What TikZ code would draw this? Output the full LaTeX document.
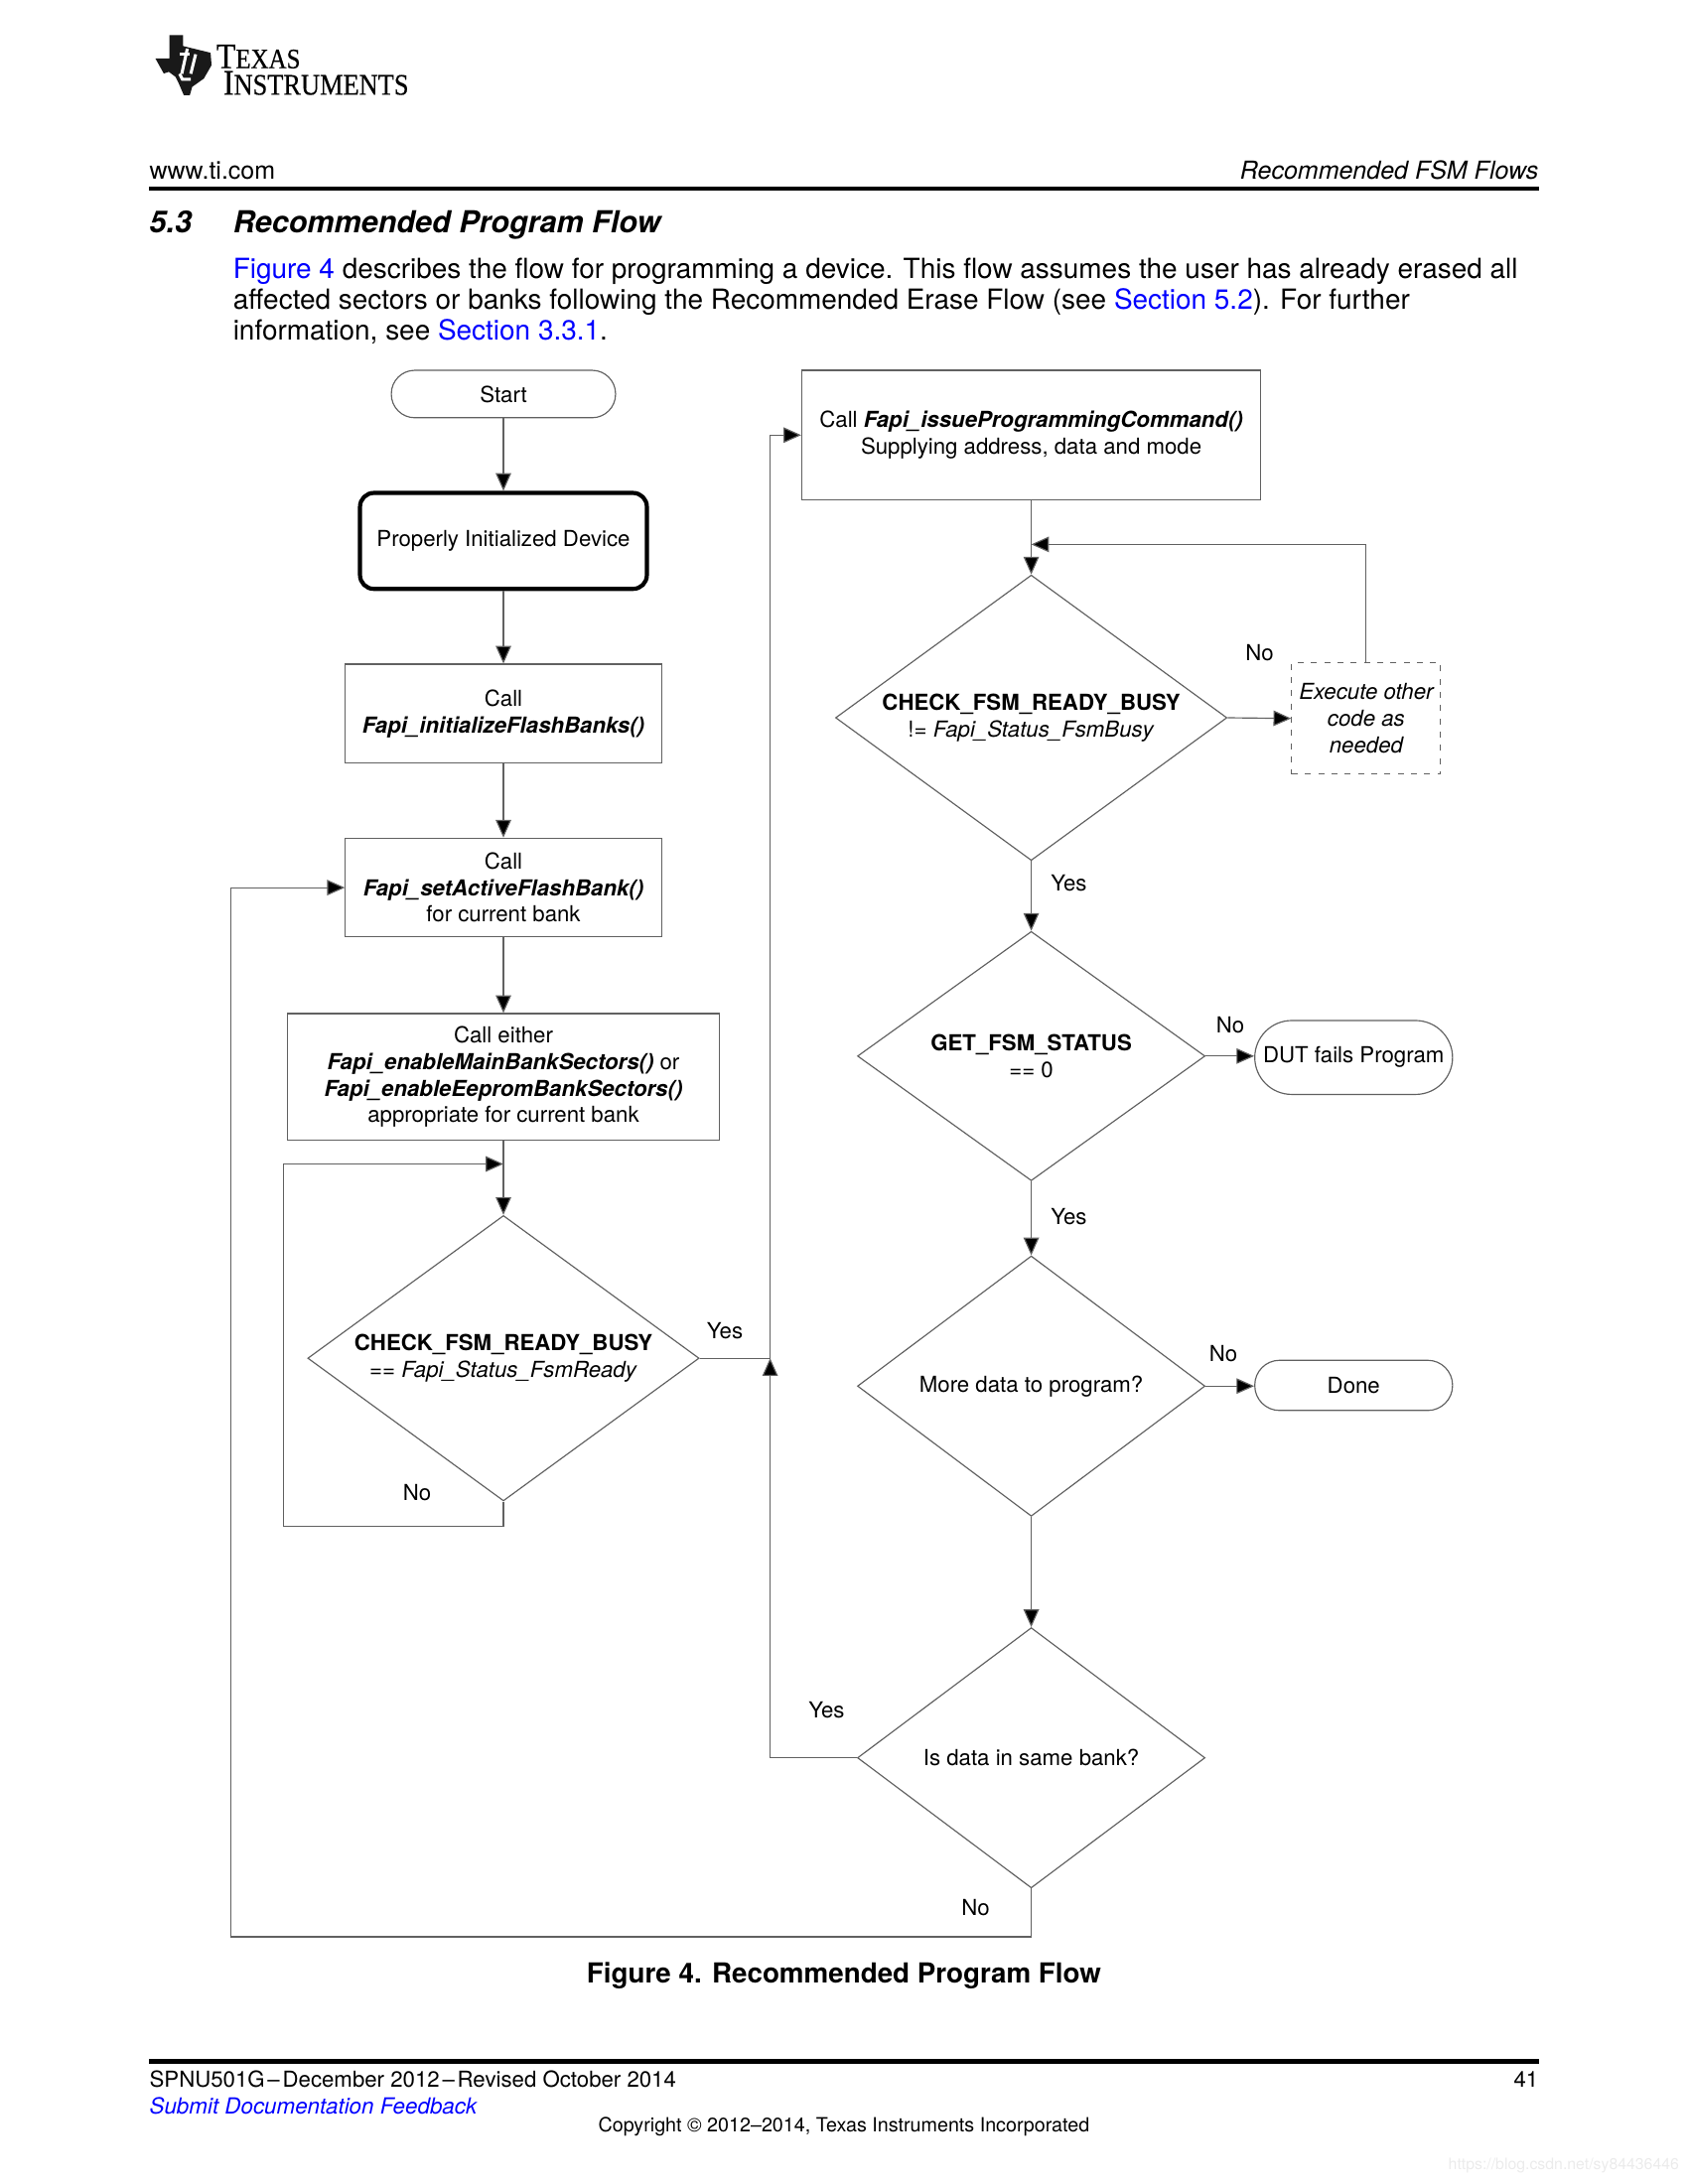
\documentclass[tikz,border=0pt]{standalone}
\usepackage{fontspec}
\setmainfont{TeX Gyre Heros}
\newfontfamily\logofont[FakeStretch=0.88,FakeBold=0.4]{Liberation Serif}
\usetikzlibrary{arrows.meta,shapes.geometric}
\definecolor{linkblue}{rgb}{0,0,1}
\newcommand{\fapi}[1]{\textbf{\textit{#1}}}
\newcommand{\lnk}[1]{\textcolor{linkblue}{#1}}
\tikzset{
	flowbox/.style={draw=black!62, line width=0.42pt, inner sep=0pt, align=center, font=\fontsize{8}{9.6}\selectfont},
	flowdec/.style={flowbox, diamond, aspect=1.37},
	flowterm/.style={flowbox, rounded corners=8.5pt},
	flowlabel/.style={inner sep=0pt, font=\fontsize{8}{9.6}\selectfont},
	flowline/.style={draw=black!62, line width=0.42pt},
	flowarrow/.style={flowline, -{Triangle[length=6.4pt,width=5.6pt,fill=black]}},
	pagetext/.style={inner sep=0pt, anchor=base west, font=\fontsize{10.06}{11}\selectfont},
}

\begin{document}
\begin{tikzpicture}[x=0.5049pt, y=-0.5049pt]
	%%%%% START %%%%%
	\useasboundingbox (0, 0) rectangle (1212.1, 1568.6);

	% logo
	\fill[black!90] (121.7, 25.2) -- (131.5, 25.2) -- (131.5, 33.1) -- (151.2, 37.9) -- (151.9, 46.8) -- (146.4, 56.4) -- (138, 62.4) -- (136.3, 68.4) -- (132, 68.4) -- (128.4, 60) -- (126, 55.2) -- (121.2, 51.6) -- (117.6, 52.8) -- (111.6, 42) -- (121.7, 42) -- cycle;
	\draw[white, line width=1.1pt] (134.5, 35) -- (130.5, 53);
	\draw[white, line width=1.1pt] (140.5, 39) -- (137, 53);
	\draw[white, line width=1pt] (129, 39) -- (136, 39);
	\draw[white, line width=1.1pt] (129, 53) -- (131, 57) -- (137, 57);
	\node[inner sep=0pt, anchor=base west, font=\logofont\fontsize{13}{13}\selectfont] (logotexas) at (155, 49) {T\fontsize{10.2}{10.2}\selectfont EXAS};
	\node[inner sep=0pt, anchor=base west, font=\logofont\fontsize{13}{13}\selectfont] (logoinst) at (160, 68) {I\fontsize{10.8}{10.8}\selectfont NSTRUMENTS};

	% header
	\node[pagetext, font=\fontsize{9}{11}\selectfont] (headleft) at (107, 129) {www.ti.com};
	\node[pagetext, anchor=base east, font=\fontsize{9}{11}\selectfont\itshape] (headright) at (1105, 129) {Recommended FSM Flows};
	\fill[black] (107, 134) rectangle (1105, 137);
	\node[pagetext, font=\fontsize{11}{13}\selectfont\bfseries\itshape] (secnum) at (107, 167) {5.3};
	\node[pagetext, font=\fontsize{11}{13}\selectfont\bfseries\itshape] (sectitle) at (167, 167) {Recommended Program Flow};
	\node[pagetext] (paraone) at (167, 200) {\lnk{Figure 4} describes the flow for programming a device. This flow assumes the user has already erased all};
	\node[pagetext] (paratwo) at (167, 222) {affected sectors or banks following the Recommended Erase Flow (see \lnk{Section 5.2}). For further};
	\node[pagetext] (parathree) at (167, 244) {information, see \lnk{Section 3.3.1}.};

	% left column
	\node[flowterm, minimum width=81.3pt, minimum height=17.2pt] (start) at (361.5, 283) {Start};
	\node[flowbox, draw=black, line width=1.5pt, rounded corners=5pt, minimum width=104pt, minimum height=34.8pt] (device) at (361.5, 388.5) {Properly Initialized Device};
	\node[flowbox, minimum width=114.6pt, minimum height=35.85pt] (initbanks) at (361.5, 512.5) {Call\\ \fapi{Fapi\_initializeFlashBanks()}};
	\node[flowbox, minimum width=114.6pt, minimum height=35.85pt] (setactive) at (361.5, 637.5) {Call\\ \fapi{Fapi\_setActiveFlashBank()}\\ for current bank};
	\node[flowbox, minimum width=156.5pt, minimum height=46pt] (enable) at (361.5, 773.5) {Call either\\ \fapi{Fapi\_enableMainBankSectors()} or\\ \fapi{Fapi\_enableEepromBankSectors()}\\ appropriate for current bank};
	\node[flowdec, minimum width=141.9pt, minimum height=103.5pt] (readyone) at (361.5, 975.5) {\textbf{CHECK\_FSM\_READY\_BUSY}\\ == \textit{Fapi\_Status\_FsmReady}};

	% right column
	\node[flowbox, minimum width=166.4pt, minimum height=47pt] (issue) at (740.5, 312.5) {Call \fapi{Fapi\_issueProgrammingCommand()}\\ Supplying address, data and mode};
	\node[flowdec, minimum width=141.9pt, minimum height=103.5pt] (readytwo) at (740.5, 515.5) {\textbf{CHECK\_FSM\_READY\_BUSY}\\ != \textit{Fapi\_Status\_FsmBusy}};
	\node[flowbox, dashed, dash pattern=on 2.2pt off 2.6pt, minimum width=54pt, minimum height=40.4pt, font=\fontsize{8}{9.6}\selectfont\itshape] (other) at (981, 516) {Execute other\\ code as\\ needed};
	\node[flowdec, aspect=1.39, minimum width=126pt, minimum height=90.4pt] (status) at (740.5, 758.5) {\textbf{GET\_FSM\_STATUS}\\ == 0};
	\node[flowterm, rounded corners=13.4pt, minimum width=71.7pt, minimum height=26.8pt] (fails) at (972, 759.5) {DUT fails Program};
	\node[flowdec, aspect=1.33, minimum width=126pt, minimum height=94.4pt] (more) at (740.5, 995.5) {More data to program?};
	\node[flowterm, rounded corners=9pt, minimum width=71.7pt, minimum height=18.2pt] (done) at (972, 995) {Done};
	\node[flowdec, aspect=1.33, minimum width=126pt, minimum height=94.4pt] (same) at (740.5, 1262.5) {Is data in same bank?};

	% free ends of the connectors
	\coordinate (joinone) at (361.5, 836);
	\coordinate (loopone) at (203.5, 1096);
	\coordinate (jointwo) at (740.5, 391);
	\coordinate (upjoin) at (553, 975.5);
	\coordinate (upturn) at (553, 1262.5);
	\coordinate (backcorner) at (165.5, 1391);

	\draw[flowarrow] (start) -- (device);
	\draw[flowarrow] (device) -- (initbanks);
	\draw[flowarrow] (initbanks) -- (setactive);
	\draw[flowarrow] (setactive) -- (enable);
	\draw[flowarrow] (enable) -- (readyone);
	\draw[flowarrow] (readyone.south) |- (loopone) |- (joinone);
	\draw[flowline] (readyone.east) -- (upjoin);
	\draw[flowarrow] (same.west) -- (upturn) -- (upjoin);
	\draw[flowarrow] (upjoin) |- (issue.west);
	\draw[flowarrow] (issue) -- (readytwo);
	\draw[flowarrow] (readytwo.east) -- (other.west);
	\draw[flowarrow] (other.north) |- (jointwo);
	\draw[flowarrow] (readytwo) -- (status);
	\draw[flowarrow] (status.east) -- (status.east -| fails.west);
	\draw[flowarrow] (status) -- (more);
	\draw[flowarrow] (more.east) -- (more.east -| done.west);
	\draw[flowarrow] (more) -- (same);
	\draw[flowarrow] (same.south) |- (backcorner) |- (setactive.west);

	% labels
	\node[flowlabel] (nobusy) at (904.5, 469) {No};
	\node[flowlabel] (yesbusy) at (767.5, 634) {Yes};
	\node[flowlabel] (nostatus) at (883.5, 736) {No};
	\node[flowlabel] (yesstatus) at (767.5, 874) {Yes};
	\node[flowlabel] (nomore) at (878.5, 972) {No};
	\node[flowlabel] (yessame) at (593.5, 1228) {Yes};
	\node[flowlabel] (nosame) at (700.5, 1370) {No};
	\node[flowlabel] (yesready) at (520.5, 956) {Yes};
	\node[flowlabel] (noready) at (299.5, 1072) {No};

	% caption and footer
	\node[inner sep=0pt, anchor=base, font=\fontsize{10}{12}\selectfont\bfseries] (caption) at (606, 1424) {Figure 4. Recommended Program Flow};
	\fill[black] (107, 1479) rectangle (1105, 1482);
	\node[pagetext, font=\fontsize{8}{10}\selectfont] (footleft) at (107, 1499) {SPNU501G\hspace{1pt}--\hspace{1pt}December 2012\hspace{1pt}--\hspace{1pt}Revised October 2014};
	\node[pagetext, anchor=base east, font=\fontsize{8}{10}\selectfont] (footpage) at (1105, 1499) {41};
	\node[pagetext, font=\fontsize{8.05}{10}\selectfont\itshape, text=linkblue] (footlink) at (107, 1518) {Submit Documentation Feedback};
	\node[inner sep=0pt, anchor=base, font=\fontsize{7.1}{9}\selectfont] (copyright) at (606, 1531) {Copyright \textcopyright{} 2012--2014, Texas Instruments Incorporated};
	\node[inner sep=0pt, anchor=base east, text=black!8, font=\fontsize{5.7}{7}\selectfont] (watermark) at (1206, 1558) {https://blog.csdn.net/sy84436446};
	%%%%% END %%%%%
\end{tikzpicture}
\end{document}
